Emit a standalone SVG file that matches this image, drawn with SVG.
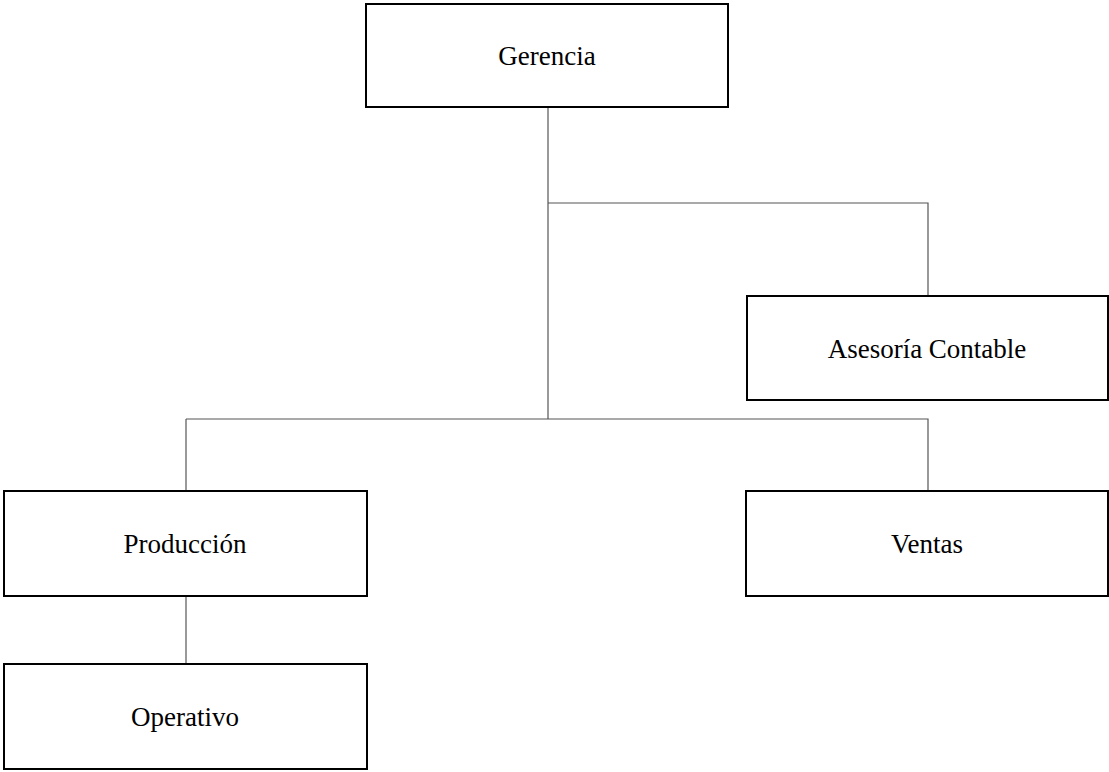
<svg xmlns="http://www.w3.org/2000/svg" width="1109" height="772" viewBox="0 0 1109 772">
<style>
.box{fill:#fff;stroke:#000;stroke-width:2}
.lbl{font-family:"Liberation Serif","Times New Roman",serif;font-size:27px;fill:#000;text-anchor:middle}
.conn{fill:none;stroke:#555;stroke-width:1.2}
</style>
<rect width="1109" height="772" fill="#fff"/>
<g id="connectors">
<path class="conn" d="M548 107 V419"/>
<path class="conn" d="M548 203 H928 V296"/>
<path class="conn" d="M186 419 H928 V491"/>
<path class="conn" d="M186 419 V491"/>
<path class="conn" d="M186 596 V664"/>
</g>
<g id="gerencia"><rect class="box" x="366" y="4" width="362" height="103"/><text class="lbl" x="547" y="65">Gerencia</text></g>
<g id="asesoria"><rect class="box" x="747" y="296" width="361" height="104"/><text class="lbl" x="927" y="358">Asesoría Contable</text></g>
<g id="produccion"><rect class="box" x="4" y="491" width="363" height="105"/><text class="lbl" x="185" y="553">Producción</text></g>
<g id="ventas"><rect class="box" x="746" y="491" width="362" height="105"/><text class="lbl" x="927" y="553">Ventas</text></g>
<g id="operativo"><rect class="box" x="4" y="664" width="363" height="105"/><text class="lbl" x="185" y="726">Operativo</text></g>
</svg>
